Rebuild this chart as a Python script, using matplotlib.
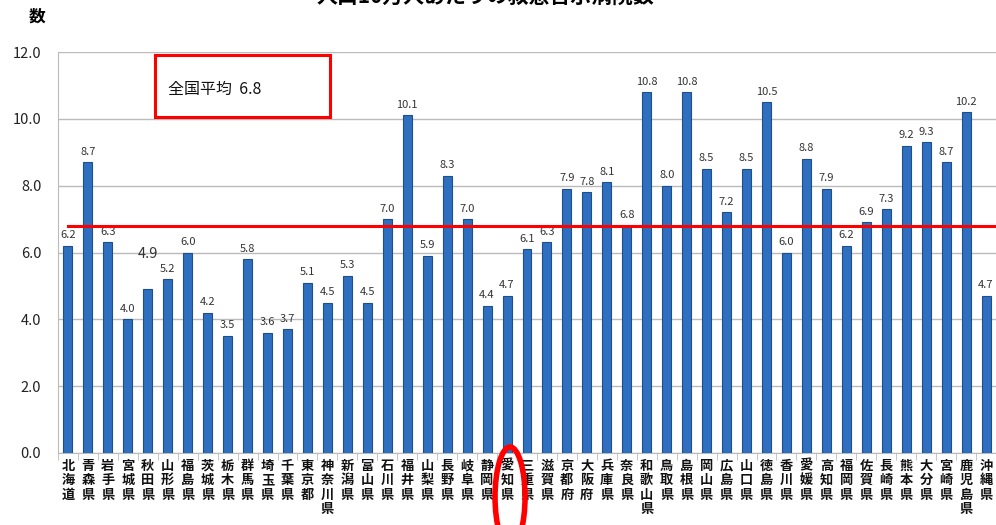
import matplotlib
matplotlib.use("Agg")
from matplotlib import pyplot as plt
from matplotlib.patches import Rectangle, Ellipse

plt.rcParams['font.family'] = ['Noto Sans CJK JP', 'DejaVu Sans']

# 都道府県と値
prefs = ["北海道", "青森県", "岩手県", "宮城県", "秋田県", "山形県", "福島県", "茨城県",
         "栃木県", "群馬県", "埼玉県", "千葉県", "東京都", "神奈川県", "新潟県", "富山県",
         "石川県", "福井県", "山梨県", "長野県", "岐阜県", "静岡県", "愛知県", "三重県",
         "滋賀県", "京都府", "大阪府", "兵庫県", "奈良県", "和歌山県", "鳥取県", "島根県",
         "岡山県", "広島県", "山口県", "徳島県", "香川県", "愛媛県", "高知県", "福岡県",
         "佐賀県", "長崎県", "熊本県", "大分県", "宮崎県", "鹿児島県", "沖縄県"]
values = [6.2, 8.7, 6.3, 4.0, 4.9, 5.2, 6.0, 4.2,
          3.5, 5.8, 3.6, 3.7, 5.1, 4.5, 5.3, 4.5,
          7.0, 10.1, 5.9, 8.3, 7.0, 4.4, 4.7, 6.1,
          6.3, 7.9, 7.8, 8.1, 6.8, 10.8, 8.0, 10.8,
          8.5, 7.2, 8.5, 10.5, 6.0, 8.8, 7.9, 6.2,
          6.9, 7.3, 9.2, 9.3, 8.7, 10.2, 4.7]
national_avg = 6.8
yticks = [0, 2, 4, 6, 8, 10, 12]
highlight = "愛知県"

fig = plt.figure(figsize=(9.96, 5.25), dpi=100)
ax = fig.add_axes([58 / 996, 1 - 453 / 525, 1 - 58 / 996, 401 / 525])

x = list(range(len(prefs)))
ax.bar(x, values, width=0.45, color="#2F6FBF", edgecolor="#1F4E8C", linewidth=0.8, zorder=3)

# 値ラベル
for i, v in enumerate(values):
    if prefs[i] == "秋田県":
        ax.annotate(f"{v:.1f}", (i, v), xytext=(0, 20), textcoords="offset points",
                    ha="center", va="bottom", fontsize=10.5, color="#333333", zorder=4)
    else:
        ax.annotate(f"{v:.1f}", (i, v), xytext=(0, 4), textcoords="offset points",
                    ha="center", va="bottom", fontsize=8, color="#333333", zorder=4)

# 全国平均の線
ax.plot([0, 47], [national_avg, national_avg], color="red", linewidth=2.2, zorder=5,
        clip_on=False)

ax.set_xlim(-0.45, 46.4)
ax.set_ylim(0, 12)
ax.set_yticks(yticks)
ax.set_yticklabels([f"{t:.1f}" for t in yticks], fontsize=10.5, color="#222222")
ax.yaxis.grid(True, color="#BBBBBB", linewidth=1, zorder=0)
ax.tick_params(axis="y", length=0, pad=12)

ax.set_xticks(x)
ax.set_xticklabels(["\n".join(p) for p in prefs], fontsize=9.5, fontweight="bold",
                   linespacing=1.05, color="#111111")
ax.set_xticks([i + 0.5 for i in range(-1, len(prefs))], minor=True)
ax.tick_params(axis="x", which="major", length=0, pad=4)
ax.tick_params(axis="x", which="minor", length=5, color="#BBBBBB", direction="out")

for side in ["top", "right"]:
    ax.spines[side].set_visible(False)
ax.spines["left"].set_color("#BBBBBB")
ax.spines["bottom"].set_color("#BBBBBB")

# 全国平均の枠
fig.patches.append(Rectangle((155 / 996, 1 - 117 / 525), 175 / 996, 62 / 525,
                             transform=fig.transFigure, fill=False, edgecolor="red",
                             linewidth=2.2))
fig.text(168 / 996, 1 - 89 / 525, "全国平均  6.8", fontsize=11.5, va="center", color="#111111")

# 愛知県の丸
hi = prefs.index(highlight)
fx = (ax.transData.transform((hi, 0))[0] + 3) / 996
fig.patches.append(Ellipse((fx, 1 - 497 / 525), 30 / 996, 100 / 525,
                           transform=fig.transFigure, fill=False, edgecolor="red",
                           linewidth=4))

fig.text(37 / 996, 1 - 17 / 525, "数", fontsize=12, fontweight="bold", ha="center", va="center")
# 上端で切れているタイトル
fig.text(485 / 996, 1 + 4 / 525, "人口10万人あたりの救急告示病院数", fontsize=15, fontweight="bold",
         ha="center", va="center")

fig.savefig("out.png", dpi=100)
